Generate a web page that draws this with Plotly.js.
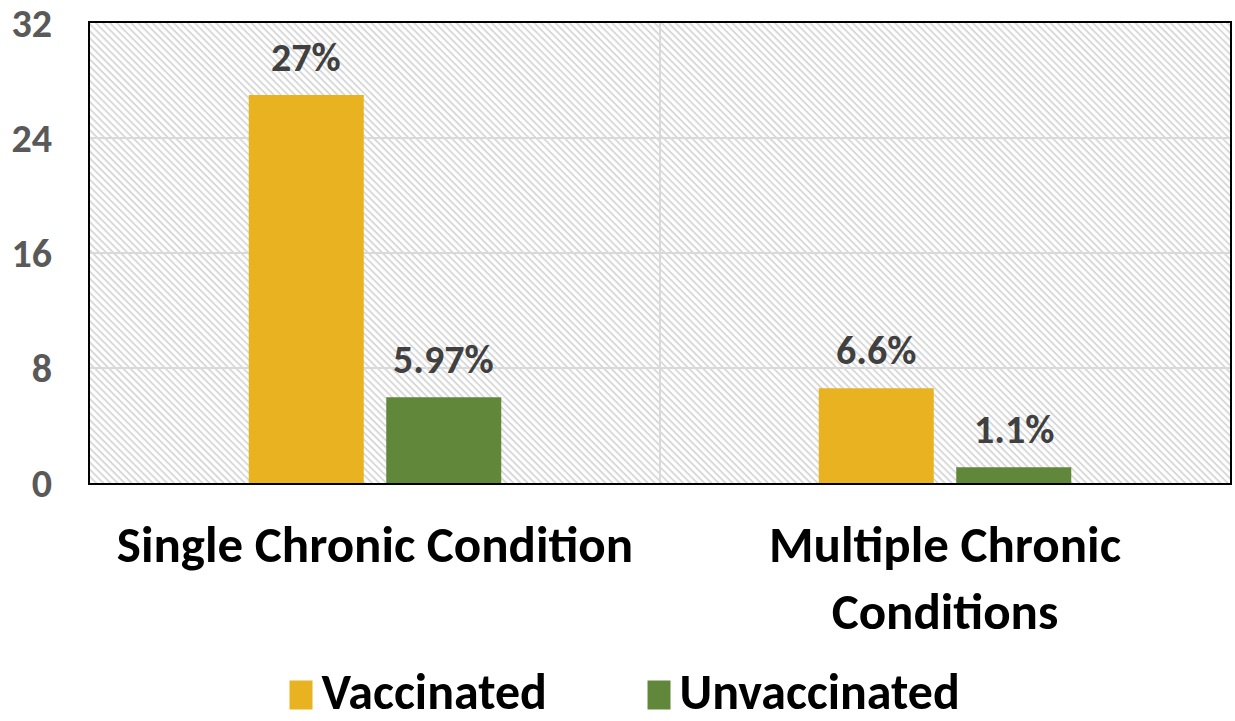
<!DOCTYPE html>
<html>
<head>
<meta charset="utf-8">
<script src="https://cdn.plot.ly/plotly-3.0.1.min.js"></script>
<style>
  html, body { margin: 0; padding: 0; background: #fff; }
  #graph { width: 1235px; height: 721px; }
</style>
</head>
<body>
<div id="graph"></div>
<script>
// categories and values
const categories = ["Single Chronic Condition", "Multiple Chronic<br>Conditions"];
const vaccinated = [27, 6.6];
const unvaccinated = [5.97, 1.1];
const seriesNames = ["Vaccinated", "Unvaccinated"];
const yTicks = [0, 8, 16, 24, 32];

const FONT = "Carlito, Lato, 'DejaVu Sans', sans-serif";

// hatched background for the plot area
const hatch =
  '<svg xmlns="http://www.w3.org/2000/svg" width="1140" height="460">' +
  '<defs><pattern id="h" width="5" height="5" patternUnits="userSpaceOnUse" patternTransform="rotate(45)">' +
  '<rect width="5" height="5" fill="#ffffff"/>' +
  '<rect width="5" height="1.6" fill="#d2d2d2"/></pattern></defs>' +
  '<rect width="1140" height="460" fill="url(#h)"/></svg>';
const hatchUrl = "data:image/svg+xml;base64," + btoa(hatch);

const data = [
  {
    type: "bar",
    name: seriesNames[0],
    x: categories,
    y: vaccinated,
    marker: { color: "#E9B220" },
    hoverinfo: "skip",
  },
  {
    type: "bar",
    name: seriesNames[1],
    x: categories,
    y: unvaccinated,
    marker: { color: "#61883A" },
    hoverinfo: "skip",
  },
];

// value labels above each bar
const bargap = 0.5175;
const slot = (1 - bargap) / 2;
const annotations = [];
[vaccinated, unvaccinated].forEach((vals, s) => {
  vals.forEach((v, i) => {
    annotations.push({
      x: i + (s === 0 ? -slot / 2 : slot / 2),
      y: v,
      xref: "x",
      yref: "y",
      text: v + "%",
      showarrow: false,
      yanchor: "bottom",
      yshift: 11,
      font: { family: FONT, size: 40, color: "#404040", weight: 700 },
    });
  });
});

const layout = {
  width: 1235,
  height: 721,
  margin: { l: 90, r: 5, t: 23, b: 238, autoexpand: false },
  paper_bgcolor: "#ffffff",
  plot_bgcolor: "rgba(0,0,0,0)",
  barmode: "group",
  bargap: bargap,
  bargroupgap: 0.1636,
  font: { family: FONT },
  xaxis: {
    type: "category",
    automargin: false,
    tickson: "boundaries",
    showgrid: true,
    gridcolor: "#d9d9d9",
    gridwidth: 1.5,
    ticks: "",
    showline: true,
    linecolor: "#000000",
    linewidth: 2,
    mirror: true,
    ticklabelstandoff: 16,
    tickfont: { family: FONT, size: 51, color: "#000000", weight: 700 },
  },
  yaxis: {
    range: [0, 32],
    automargin: false,
    tickvals: yTicks,
    ticklabeloverflow: "allow",
    showgrid: true,
    gridcolor: "#d9d9d9",
    gridwidth: 1.5,
    zeroline: false,
    ticks: "",
    showline: true,
    linecolor: "#000000",
    linewidth: 2,
    mirror: true,
    ticklabelstandoff: 28,
    tickfont: { family: FONT, size: 40, color: "#595959", weight: 700 },
  },
  legend: {
    orientation: "h",
    x: 0.168,
    xanchor: "left",
    y: -0.448,
    yanchor: "middle",
    font: { family: FONT, size: 50, color: "#000000", weight: 700 },
    entrywidth: 313,
    entrywidthmode: "pixels",
  },
  annotations: annotations,
  images: [
    {
      source: hatchUrl,
      xref: "paper",
      yref: "paper",
      x: 0,
      y: 1,
      sizex: 1,
      sizey: 1,
      xanchor: "left",
      yanchor: "top",
      sizing: "stretch",
      layer: "below",
    },
  ],
  showlegend: true,
};

Plotly.newPlot("graph", data, layout, { staticPlot: true }).then(() => {
  // bigger legend swatches, placed just left of their text, bottom on the baseline
  document.querySelectorAll(".legend .traces").forEach((tr) => {
    const text = tr.querySelector(".legendtext");
    const path = tr.querySelector(".legendpoints path");
    if (!text || !path) return;
    const tRect = text.getBoundingClientRect();
    const pRect = path.getBoundingClientRect();
    const pBox = path.getBBox();
    const offX = pRect.left - pBox.x;
    const offY = pRect.top - pBox.y;
    const right = tRect.left - 9 - offX;
    const bottom = tRect.bottom - 12 - offY;
    const w = 23, h = 29;
    path.setAttribute("d",
      "M" + (right - w) + "," + (bottom - h) + "H" + right + "V" + bottom + "H" + (right - w) + "Z");
  });
});
</script>
</body>
</html>
